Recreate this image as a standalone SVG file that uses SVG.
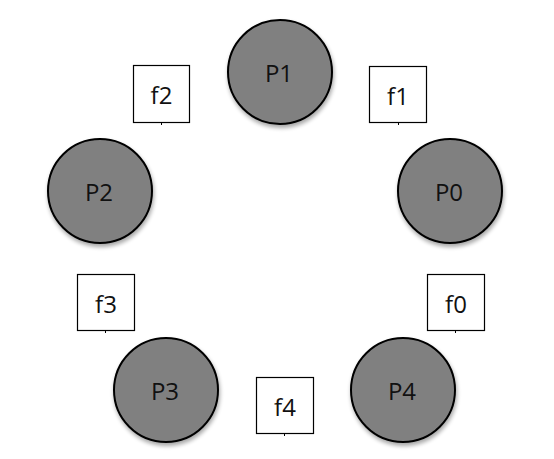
<svg xmlns="http://www.w3.org/2000/svg" width="554" height="459" viewBox="0 0 554 459">
<defs>
<filter id="sh" x="-20%" y="-20%" width="140%" height="150%">
<feGaussianBlur in="SourceAlpha" stdDeviation="2"/>
<feOffset dx="1" dy="3" result="b"/>
<feComponentTransfer><feFuncA type="linear" slope="0.35"/></feComponentTransfer>
<feMerge><feMergeNode/><feMergeNode in="SourceGraphic"/></feMerge>
</filter>
<style>
.p{fill:#808080;stroke:#000;stroke-width:2;filter:url(#sh)}
.f{fill:#fff;stroke:#000;stroke-width:1.2}
.t{font-family:"Open Sans","Noto Sans","Liberation Sans",sans-serif;font-size:24px;fill:#111;text-anchor:middle;dominant-baseline:central}
.k{stroke:#000;stroke-width:1}
</style>
</defs>
<rect width="554" height="459" fill="#fff"/>
<g id="P1"><circle class="p" cx="280" cy="72" r="52"/><text class="t" x="279" y="72">P1</text></g>
<g id="P0"><circle class="p" cx="450" cy="191" r="52"/><text class="t" x="449" y="191">P0</text></g>
<g id="P2"><circle class="p" cx="100" cy="191" r="52"/><text class="t" x="99" y="191">P2</text></g>
<g id="P3"><circle class="p" cx="166" cy="390" r="52"/><text class="t" x="165" y="390">P3</text></g>
<g id="P4"><circle class="p" cx="403" cy="390" r="52"/><text class="t" x="402" y="390">P4</text></g>
<g id="f2"><rect class="f" x="133.5" y="65.5" width="56" height="57"/><line class="k" x1="161.5" y1="122.5" x2="161.5" y2="125"/><text class="t" x="161.5" y="94">f2</text></g>
<g id="f1"><rect class="f" x="369.5" y="66.5" width="57" height="56"/><line class="k" x1="398.5" y1="122.5" x2="398.5" y2="125"/><text class="t" x="398" y="95">f1</text></g>
<g id="f3"><rect class="f" x="77.5" y="274.5" width="57" height="56"/><line class="k" x1="105.5" y1="330.5" x2="105.5" y2="333"/><text class="t" x="106" y="303">f3</text></g>
<g id="f0"><rect class="f" x="427.5" y="274.5" width="57" height="56"/><line class="k" x1="455.5" y1="330.5" x2="455.5" y2="333"/><text class="t" x="456" y="303">f0</text></g>
<g id="f4"><rect class="f" x="256.5" y="377.5" width="57" height="56"/><line class="k" x1="284.5" y1="433.5" x2="284.5" y2="436"/><text class="t" x="285" y="406">f4</text></g>
<g id="connectors"></g>
</svg>
